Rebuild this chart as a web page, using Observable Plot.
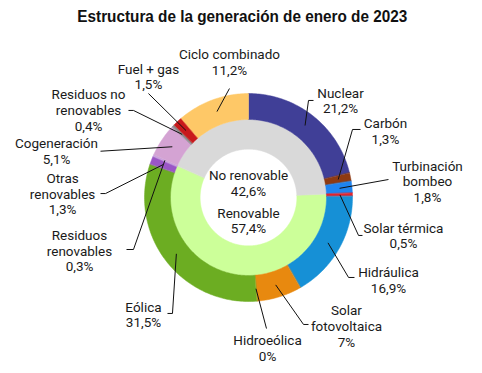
<!DOCTYPE html>
<html><head><meta charset="utf-8">
<script src="https://cdn.jsdelivr.net/npm/d3@7"></script>
<script src="https://cdn.jsdelivr.net/npm/@observablehq/plot@0.6"></script>
<style>
body{margin:0;background:#fff;}
#title{height:32px;line-height:34px;text-align:center;color:#111;padding-left:3px;}
#title span{display:inline-block;font:bold 17px "Liberation Sans",Arial,sans-serif;transform:scaleX(0.9);transform-origin:center;white-space:nowrap;}
#chart svg{display:block;}
</style></head><body>
<div id="title"><span>Estructura de la generación de enero de 2023</span></div>
<div id="chart"></div>
<script>
// ---- data ----
const categories = ["Nuclear","Carbón","Turbinación bombeo","Solar térmica","Hidráulica","Solar fotovoltaica","Hidroeólica","Eólica","Otras renovables","Residuos renovables","Cogeneración","Residuos no renovables","Fuel + gas","Ciclo combinado"];
const shares = [21.2,1.3,1.8,0.5,16.9,7,0,31.5,1.3,0.3,5.1,0.4,1.5,11.2];
const groupOf = ["No renovable","No renovable","No renovable","Renovable","Renovable","Renovable","Renovable","Renovable","Renovable","Renovable","No renovable","No renovable","No renovable","No renovable"];
const groups = ["Renovable","No renovable"];
const groupShares = [57.4,42.6];
const labelText = ["Nuclear","Carbón","Turbinación\nbombeo","Solar térmica","Hidráulica","Solar\nfotovoltaica","Hidroeólica","Eólica","Otras\nrenovables","Residuos\nrenovables","Cogeneración","Residuos no\nrenovables","Fuel + gas","Ciclo combinado"];

// ---- styles ----
const colors = ["#403f97","#8e3a12","#1f84f0","#e5232b","#1690d6","#e8890f","#2e7d32","#6cad22","#9a56c6","#c9a3dc","#d4a3d3","#8c8c8c","#c8191c","#fec867"];
const groupColors = ["#ccff99","#d9d9d9"];

// ---- layout (chart units: ring outer radius = 1, centre = 0,0) ----
const R = 104, cx = 248, cy = 165, W = 482, H = 341;
const rOuter = 1, rMid = 0.75, rHole = 0.465, rLead = 0.88;
const labelPos = [[0.885,0.933],[1.317,0.639],[1.721,0.154],[1.490,-0.365],[1.346,-0.793],[0.942,-1.236],[0.183,-1.447],[-1.010,-1.125],[-1.788,0.034],[-1.625,-0.514],[-1.846,0.447],[-1.538,0.841],[-0.962,1.163],[-0.183,1.303]];
const leaderBend = [[0.577,0.933],[1.0,0.654],[1.346,0.173],[1.058,-0.365],[0.962,-0.769],[0.529,-1.221],[0.173,-1.26],[-0.731,-1.115],[-1.375,0.038],[-1.106,-0.5],[-1.423,0.445],[-1.106,0.837],[-0.962,1.0],[-0.183,1.048]];
const leaderEnd = [[0.625,0.933],[1.077,0.654],[1.346,0.173],[1.096,-0.365],[1.019,-0.769],[0.577,-1.221],[0.173,-1.26],[-0.779,-1.115],[-1.423,0.038],[-1.173,-0.5],[-1.423,0.445],[-1.154,0.837],[-0.962,1.0],[-0.183,1.048]];
const centerPos = [[0,-0.221],[0,0.139]];

const fmt = v => String(v).replace(".", ",") + "%";
const pol = (r, a) => ({x: r * Math.sin(a), y: r * Math.cos(a)});

function ring(names, values, start, r0, r1) {
  const total = d3.sum(values);
  const pts = [], arcs = [];
  let a = start;
  names.forEach((name, i) => {
    const a0 = a, a1 = a + values[i] / total * 2 * Math.PI;
    a = a1;
    arcs.push({name, a0, a1, mid: (a0 + a1) / 2});
    if (values[i] <= 0) return;
    const n = Math.max(2, Math.ceil((a1 - a0) / (Math.PI / 180)));
    for (let k = 0; k <= n; k++) pts.push({name, ...pol(r1, a0 + (a1 - a0) * k / n)});
    for (let k = n; k >= 0; k--) pts.push({name, ...pol(r0, a0 + (a1 - a0) * k / n)});
  });
  return {pts, arcs};
}

const outer = ring(categories, shares, 0, rMid, rOuter);
const firstRen = outer.arcs[groupOf.indexOf("Renovable")].a0;
const inner = ring(groups, groupShares, firstRen, rHole, rMid);

const leaders = [];
outer.arcs.forEach((arc, i) => {
  const s = pol(rLead, arc.mid);
  leaders.push({name: arc.name, x: s.x, y: s.y});
  leaders.push({name: arc.name, x: leaderBend[i][0], y: leaderBend[i][1]});
  leaders.push({name: arc.name, x: leaderEnd[i][0], y: leaderEnd[i][1]});
});
const labels = categories.map((c, i) => ({x: labelPos[i][0], y: labelPos[i][1], text: labelText[i] + "\n" + fmt(shares[i])}));
const centerLabels = groups.map((g, i) => ({x: centerPos[i][0], y: centerPos[i][1], text: g + "\n" + fmt(groupShares[i])}));

const chart = Plot.plot({
  width: W, height: H, margin: 0,
  style: {fontFamily: "Roboto, sans-serif", background: "white"},
  x: {domain: [-cx / R, (W - cx) / R], axis: null},
  y: {domain: [-(H - cy) / R, cy / R], axis: null},
  color: {type: "ordinal", domain: [...categories, ...groups], range: [...colors, ...groupColors]},
  marks: [
    Plot.line(inner.pts, {x: "x", y: "y", z: "name", fill: "name", stroke: "name", strokeWidth: 0.5, curve: "linear-closed"}),
    Plot.line(outer.pts, {x: "x", y: "y", z: "name", fill: "name", stroke: "name", strokeWidth: 0.5, curve: "linear-closed"}),
    Plot.line(leaders, {x: "x", y: "y", z: "name", stroke: "#111", strokeWidth: 1, strokeLinecap: "butt", strokeLinejoin: "miter"}),
    Plot.text(labels, {x: "x", y: "y", text: "text", textAnchor: "middle", lineAnchor: "middle", lineHeight: 1.15, fontSize: 13.5, fill: "#1a1a1a"}),
    Plot.text(centerLabels, {x: "x", y: "y", text: "text", textAnchor: "middle", lineAnchor: "middle", lineHeight: 1.15, fontSize: 13.5, fill: "#1a1a1a"})
  ]
});
document.getElementById("chart").appendChild(chart);
</script>
</body></html>
